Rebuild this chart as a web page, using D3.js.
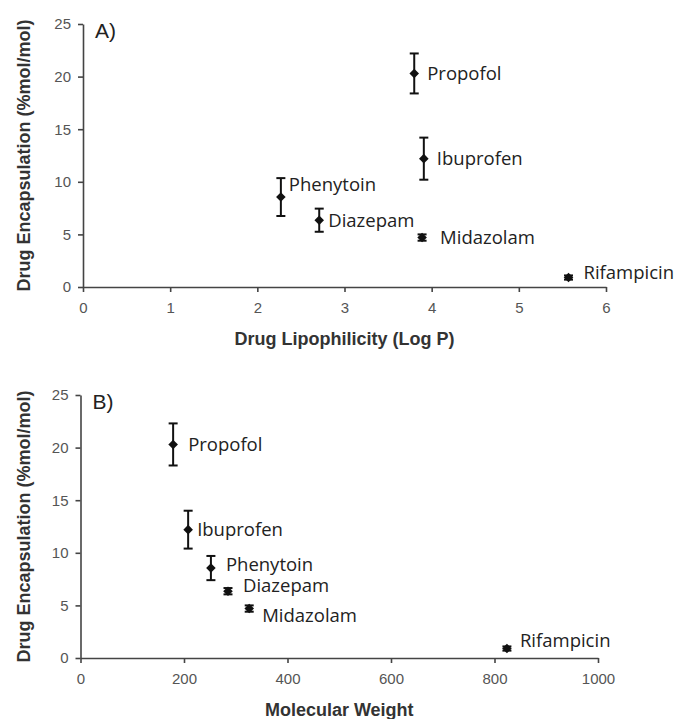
<!DOCTYPE html>
<html>
<head>
<meta charset="utf-8">
<script src="https://cdn.jsdelivr.net/npm/d3@7"></script>
<style>
  body { margin: 0; background: #fff; }
  .tick text { fill: #555; font-family: "Liberation Sans", Arial, sans-serif; font-size: 15px; }
  .domain, .tick line { stroke: #444; stroke-width: 1.6; }
</style>
</head>
<body>
<div id="chart"></div>
<script>
const drugs = ["Propofol", "Ibuprofen", "Phenytoin", "Diazepam", "Midazolam", "Rifampicin"];
const logP = [3.8, 3.91, 2.27, 2.71, 3.89, 5.57];
const molWeight = [179, 208, 252, 285, 326, 824];
const encapsulation = [20.3, 12.2, 8.55, 6.35, 4.7, 0.9];
const errorA = [1.9, 2.0, 1.8, 1.1, 0.3, 0.2];
const errorB = [2.0, 1.8, 1.15, 0.3, 0.3, 0.2];
const xTicksA = [0, 1, 2, 3, 4, 5, 6];
const xTicksB = [0, 200, 400, 600, 800, 1000];
const yTicks = [0, 5, 10, 15, 20, 25];

// label nudges (px), layout only
const nudgeA = [[13, 0], [13, 0], [8, -13], [9, 0], [18, 0], [15, -5]];
const nudgeB = [[15, 0], [9, 0], [15, -4], [15, -6], [13, 7], [13, -8]];

const width = 683,
  height = 719;

const svg = d3
  .select("#chart")
  .append("svg")
  .attr("width", width)
  .attr("height", height);

function drawPanel(opts) {
  const x = d3.scaleLinear().domain(opts.xDomain).range([opts.left, opts.right]);
  const y = d3.scaleLinear().domain([0, 25]).range([opts.bottom, opts.top]);

  const g = svg.append("g");

  g.append("g")
    .attr("transform", `translate(0,${opts.bottom})`)
    .call(
      d3.axisBottom(x)
        .tickValues(opts.xTicks)
        .tickFormat(d3.format("d"))
        .tickSize(5)
        .tickSizeOuter(0)
        .tickPadding(10)
    );

  g.append("g")
    .attr("transform", `translate(${opts.left},0)`)
    .call(
      d3.axisLeft(y)
        .tickValues(yTicks)
        .tickFormat(d3.format("d"))
        .tickSize(5)
        .tickSizeOuter(0)
        .tickPadding(7)
    );

  // axis titles
  g.append("text")
    .attr("x", (opts.left + opts.right) / 2)
    .attr("y", opts.bottom + 58)
    .attr("text-anchor", "middle")
    .style("font-family", "Liberation Sans, Arial, sans-serif")
    .style("font-weight", "bold")
    .style("font-size", "18px")
    .style("fill", "#333")
    .text(opts.xTitle);

  g.append("text")
    .attr("transform", `translate(30,${(opts.top + opts.bottom) / 2}) rotate(-90)`)
    .attr("text-anchor", "middle")
    .style("font-family", "Liberation Sans, Arial, sans-serif")
    .style("font-weight", "bold")
    .style("font-size", "18px")
    .style("fill", "#333")
    .text("Drug Encapsulation (%mol/mol)");

  g.append("text")
    .attr("x", opts.left + 12)
    .attr("y", opts.top + 14)
    .style("font-family", "Liberation Sans, Arial, sans-serif")
    .style("font-size", "21px")
    .style("fill", "#222")
    .text(opts.tag);

  const pts = drugs.map((name, i) => ({
    name: name,
    x: opts.xValues[i],
    y: encapsulation[i],
    err: opts.errors[i],
    nudge: opts.nudges[i],
  }));

  const pt = g.selectAll(".pt").data(pts).join("g").attr("class", "pt");

  // error bars
  pt.append("line")
    .attr("x1", (d) => x(d.x))
    .attr("x2", (d) => x(d.x))
    .attr("y1", (d) => y(d.y - d.err))
    .attr("y2", (d) => y(d.y + d.err))
    .style("stroke", "#111")
    .style("stroke-width", 2);

  [-1, 1].forEach((s) => {
    pt.append("line")
      .attr("x1", (d) => x(d.x) - 4.5)
      .attr("x2", (d) => x(d.x) + 4.5)
      .attr("y1", (d) => y(d.y + s * d.err))
      .attr("y2", (d) => y(d.y + s * d.err))
      .style("stroke", "#111")
      .style("stroke-width", 2);
  });

  pt.append("path")
    .attr("d", d3.symbol(d3.symbolSquare, 46))
    .attr("transform", (d) => `translate(${x(d.x)},${y(d.y)}) rotate(45)`)
    .style("fill", "#111");

  pt.append("text")
    .attr("x", (d) => x(d.x) + d.nudge[0])
    .attr("y", (d) => y(d.y) + d.nudge[1])
    .attr("dy", "0.36em")
    .style("font-family", "Open Sans, Noto Sans, sans-serif")
    .style("font-size", "18.5px")
    .style("fill", "#222")
    .text((d) => d.name);
}

drawPanel({
  tag: "A)",
  xDomain: [0, 6],
  xTicks: xTicksA,
  xValues: logP,
  errors: errorA,
  nudges: nudgeA,
  xTitle: "Drug Lipophilicity (Log P)",
  left: 83,
  right: 606,
  top: 24,
  bottom: 287,
});

drawPanel({
  tag: "B)",
  xDomain: [0, 1000],
  xTicks: xTicksB,
  xValues: molWeight,
  errors: errorB,
  nudges: nudgeB,
  xTitle: "Molecular Weight",
  left: 80.5,
  right: 598,
  top: 395,
  bottom: 658,
});
</script>
</body>
</html>
